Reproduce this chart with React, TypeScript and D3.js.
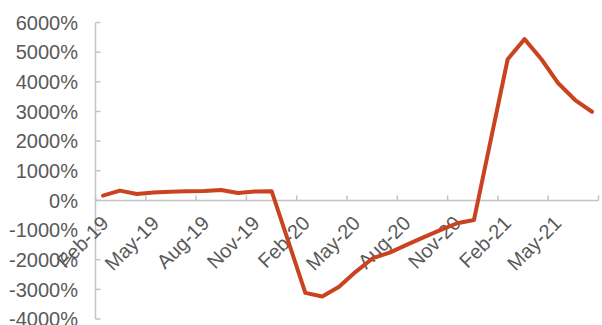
import React from "react";
import * as d3 from "d3";

const categories = [
  "Feb-19","Mar-19","Apr-19","May-19","Jun-19","Jul-19","Aug-19","Sep-19","Oct-19","Nov-19","Dec-19","Jan-20",
  "Feb-20","Mar-20","Apr-20","May-20","Jun-20","Jul-20","Aug-20","Sep-20","Oct-20","Nov-20","Dec-20","Jan-21",
  "Feb-21","Mar-21","Apr-21","May-21","Jun-21","Jul-21",
];
const values = [
  160, 330, 215, 265, 295, 305, 315, 350, 250, 300, 310, -1400,
  -3120, -3240, -2910, -2400, -1950, -1760, -1500, -1245, -1000, -770, -660, 2050,
  4760, 5440, 4760, 3950, 3385, 2990,
];
const yTicks = [6000, 5000, 4000, 3000, 2000, 1000, 0, -1000, -2000, -3000, -4000];

const W = 602, H = 325;

export default function App() {
  const y = d3.scaleLinear().domain([-4000, 6000]).range([319, 22.5]);
  const band = d3.scaleBand<string>().domain(categories).range([95.5, 598.5]).paddingInner(0).paddingOuter(0);
  const px = d3.scalePoint<string>().domain(categories).range([103, 592]);
  const line = d3.line<number>().x((_, i) => px(categories[i])!).y((d) => y(d));
  const axisColor = "#c4c4c4";
  const textColor = "#595959";
  const y0 = y(0);
  const tickIdx = d3.range(0, categories.length + 1, 3);
  const labelIdx = d3.range(0, categories.length, 3);
  const fontFamily = "'Liberation Sans', Arial, sans-serif";

  return (
    <svg width={W} height={H} style={{ position: "fixed", left: 0, top: 0, background: "#fff" }}>
      {/* y axis */}
      <line x1={95.5} x2={95.5} y1={y(6000)} y2={y(-4000)} stroke={axisColor} strokeWidth={1.5} />
      {yTicks.map((t) => (
        <g key={t}>
          <line x1={95.5} x2={100.5} y1={y(t)} y2={y(t)} stroke={axisColor} strokeWidth={1.5} />
          <text x={78} y={y(t)} dy="0.36em" textAnchor="end" fontSize={20} fill={textColor} fontFamily={fontFamily}>
            {t + "%"}
          </text>
        </g>
      ))}
      {/* x axis */}
      <line x1={95.5} x2={598.5} y1={y0} y2={y0} stroke={axisColor} strokeWidth={1.5} />
      {tickIdx.map((i) => {
        const x = i < categories.length ? band(categories[i])! : band.range()[1];
        return <line key={i} x1={x} x2={x} y1={y0} y2={y0 - 5} stroke={axisColor} strokeWidth={1.5} />;
      })}
      {labelIdx.map((i) => {
        const cx = band(categories[i])! + band.bandwidth() / 2;
        return (
          <text
            key={i}
            transform={`translate(${cx + 1},${y0 + 19}) rotate(-45)`}
            dy="0.36em"
            textAnchor="end"
            fontSize={20}
            fill={textColor}
            fontFamily={fontFamily}
          >
            {categories[i]}
          </text>
        );
      })}
      <path d={line(values)!} fill="none" stroke="#c9431f" strokeWidth={4} strokeLinejoin="round" strokeLinecap="round" />
    </svg>
  );
}
